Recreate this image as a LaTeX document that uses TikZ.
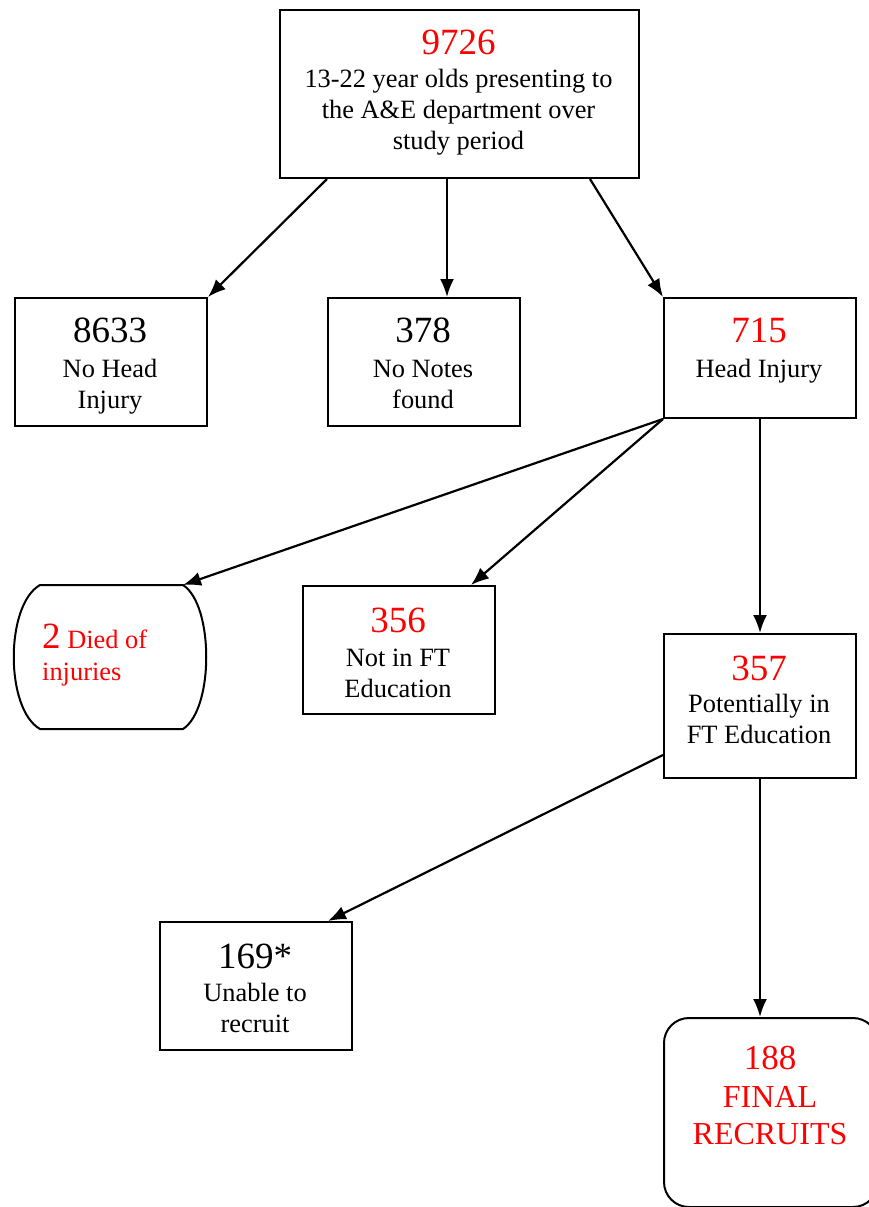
\documentclass[tikz,border=0pt]{standalone}
\usepackage{fontspec}
\setmainfont{Liberation Serif}
\usetikzlibrary{arrows.meta}
\begin{document}
\begin{tikzpicture}[x=1pt,y=-1pt,
  box/.style={draw, line width=2pt, inner sep=0pt, anchor=north west},
  arr/.style={-{Latex[length=18pt,width=14pt]}, line width=2.2pt},
  num/.style={font=\fontsize{37}{37}\selectfont, anchor=base, inner sep=0pt},
  lab/.style={font=\fontsize{26.4}{31}\selectfont, anchor=base, inner sep=0pt},
  big/.style={font=\fontsize{32}{38}\selectfont, anchor=base, inner sep=0pt, text=red}]
\useasboundingbox (0,0) rectangle (869,1207);
\clip (0,0) rectangle (869,1207);
% boxes
\node[box, minimum width=359, minimum height=168] (top) at (279,9) {};
\node[box, minimum width=192, minimum height=128] (noh) at (14,297) {};
\node[box, minimum width=192, minimum height=128] (non) at (327,297) {};
\node[box, minimum width=192, minimum height=120] (hi) at (663,297) {};
\node[inner sep=0pt, minimum width=192, minimum height=144, anchor=north west] (died) at (14,585) {};
\draw[line width=2pt] (40,585) -- (183,585) .. controls (214,605) and (214,709) .. (183,729)
  -- (40,729) .. controls (5,709) and (5,605) .. (40,585) -- cycle;
\node[box, minimum width=192, minimum height=128] (nft) at (302,585) {};
\node[box, minimum width=192, minimum height=144] (pft) at (663,633) {};
\node[box, minimum width=192, minimum height=128] (unr) at (159,921) {};
\node[box, rounded corners=25pt, minimum width=214, minimum height=189] (fin) at (663,1017) {};
% texts
\node[num, text=red] (t1) at (458.5,55) {9726};
\node[lab] (t2) at (458.5,87) {13-22 year olds presenting to};
\node[lab] (t3) at (458.5,118) {the A\&E department over};
\node[lab] (t4) at (458.5,149) {study period};
\node[num] (a1) at (110,342) {8633};
\node[lab] (a2) at (110,377) {No Head};
\node[lab] (a3) at (110,408) {Injury};
\node[num] (b1) at (423,342) {378};
\node[lab] (b2) at (423,377) {No Notes};
\node[lab] (b3) at (423,408) {found};
\node[num, text=red] (c1) at (759,342) {715};
\node[lab] (c2) at (759,377) {Head Injury};
\node[lab, anchor=base west, text=red] (d1) at (42,648) {{\fontsize{37}{37}\selectfont 2} Died of};
\node[lab, anchor=base west, text=red] (d2) at (42,680) {injuries};
\node[num, text=red] (e1) at (398,632) {356};
\node[lab] (e2) at (398,666) {Not in FT};
\node[lab] (e3) at (398,697) {Education};
\node[num, text=red] (f1) at (759,680) {357};
\node[lab] (f2) at (759,712) {Potentially in};
\node[lab] (f3) at (759,743) {FT Education};
\node[num] (g1) at (255,968) {169*};
\node[lab] (g2) at (255,1001) {Unable to};
\node[lab] (g3) at (255,1032) {recruit};
\node[big, font=\fontsize{35}{38}\selectfont] (h1) at (770,1069) {188};
\node[big] (h2) at (770,1107) {FINAL};
\node[big] (h3) at (770,1144) {RECRUITS};
% arrows
\draw[arr] ([xshift=48]top.south west) -- (noh.north east);
\draw[arr] ([xshift=168]top.south west) -- ([xshift=120]non.north west);
\draw[arr] ([xshift=311]top.south west) -- (hi.north west);
\draw[arr] (hi.south west) -- ([xshift=169]died.north west);
\draw[arr] (hi.south west) -- ([xshift=169]nft.north west);
\draw[arr] (hi.south) -- (hi.south |- pft.north);
\draw[arr] ([yshift=24]pft.south west) -- ([xshift=169]unr.north west);
\draw[arr] (pft.south) -- (pft.south |- fin.north);
\end{tikzpicture}
\end{document}
